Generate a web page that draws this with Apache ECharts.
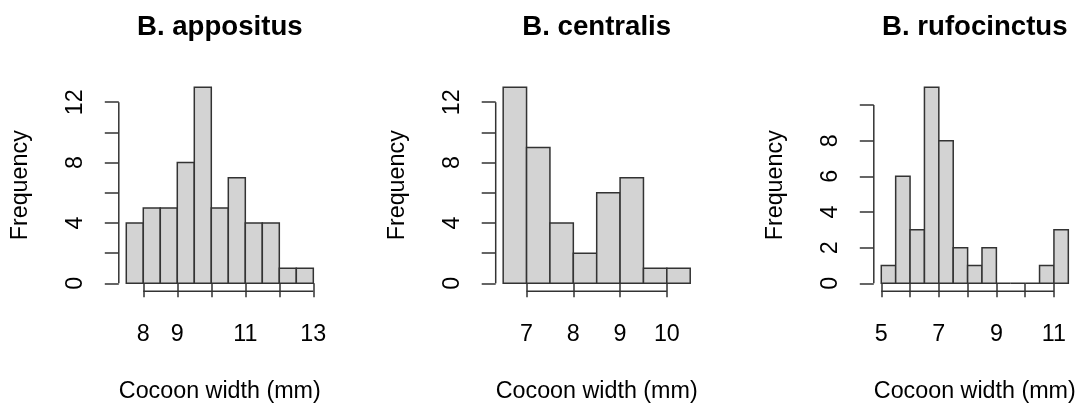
<!DOCTYPE html>
<html>
<head>
<meta charset="utf-8">
<script src="https://cdn.jsdelivr.net/npm/echarts@6/dist/echarts.min.js"></script>
<style>
  html, body { margin: 0; padding: 0; background: #fff; }
  #chart { width: 1082px; height: 409px; }
</style>
</head>
<body>
<div id="chart"></div>
<script>
// Species shown, one histogram each
const species = ['B. appositus', 'B. centralis', 'B. rufocinctus'];

// Bin edges (mm) and counts per bin
const breaksAppositus = [7.5, 8, 8.5, 9, 9.5, 10, 10.5, 11, 11.5, 12, 12.5, 13];
const countsAppositus = [4, 5, 5, 8, 13, 5, 7, 4, 4, 1, 1];

const breaksCentralis = [6.5, 7, 7.5, 8, 8.5, 9, 9.5, 10, 10.5];
const countsCentralis = [13, 9, 4, 2, 6, 7, 1, 1];

const breaksRufocinctus = [5, 5.5, 6, 6.5, 7, 7.5, 8, 8.5, 9, 9.5, 10, 10.5, 11, 11.5];
const countsRufocinctus = [1, 6, 3, 11, 8, 2, 1, 2, 0, 0, 0, 1, 3];

// Tick positions and the labelled subset on each axis
const xTicksAppositus = [8, 9, 10, 11, 12, 13];
const xLabelsAppositus = [8, 9, 11, 13];
const xTicksCentralis = [7, 8, 9, 10];
const xLabelsCentralis = [7, 8, 9, 10];
const xTicksRufocinctus = [5, 6, 7, 8, 9, 10, 11];
const xLabelsRufocinctus = [5, 7, 9, 11];

const yTicksAppositus = [0, 2, 4, 6, 8, 10, 12];
const yLabelsAppositus = [0, 4, 8, 12];
const yTicksCentralis = [0, 2, 4, 6, 8, 10, 12];
const yLabelsCentralis = [0, 4, 8, 12];
const yTicksRufocinctus = [0, 2, 4, 6, 8, 10];
const yLabelsRufocinctus = [0, 2, 4, 6, 8];

const xTitle = 'Cocoon width (mm)';
const yTitle = 'Frequency';

const panels = [
  { breaks: breaksAppositus, counts: countsAppositus, xt: xTicksAppositus, xl: xLabelsAppositus, yt: yTicksAppositus, yl: yLabelsAppositus },
  { breaks: breaksCentralis, counts: countsCentralis, xt: xTicksCentralis, xl: xLabelsCentralis, yt: yTicksCentralis, yl: yLabelsCentralis },
  { breaks: breaksRufocinctus, counts: countsRufocinctus, xt: xTicksRufocinctus, xl: xLabelsRufocinctus, yt: yTicksRufocinctus, yl: yLabelsRufocinctus }
];

// Layout of the three plot regions
const plotLefts = [118.8, 495.7, 873.8];
const plotWidth = 202;
const plotTop = 79.3;
const plotHeight = 211.9;

const FONT = '"Liberation Sans", Arial, Helvetica, sans-serif';
const INK = '#333';
const LW = 1.5;
const BAR_FILL = '#d3d3d3';
const LABEL_SIZE = 23.3;

const grids = [], xAxes = [], yAxes = [], series = [], titles = [];

panels.forEach((p, i) => {
  const lo = p.breaks[0], hi = p.breaks[p.breaks.length - 1];
  const pad = 0.04 * (hi - lo);
  const xMin = lo - pad, xMax = hi + pad;
  const yTop = Math.max(...p.counts);
  const yMin = -0.04 * yTop, yMax = yTop * 1.04;

  grids.push({
    left: plotLefts[i], top: plotTop, width: plotWidth, height: plotHeight,
    containLabel: false, outerBoundsMode: 'none'
  });

  titles.push({
    text: species[i],
    left: plotLefts[i] + plotWidth / 2,
    top: 13,
    padding: 0,
    textAlign: 'center',
    textStyle: { fontFamily: FONT, fontSize: 27.6, fontWeight: 'bold', color: '#000' }
  });

  xAxes.push({
    type: 'value', gridIndex: i, min: xMin, max: xMax,
    name: xTitle, nameLocation: 'middle', nameGap: 89,
    nameTextStyle: { fontFamily: FONT, fontSize: LABEL_SIZE, color: '#000' },
    axisLine: { show: false },
    splitLine: { show: false },
    axisTick: { show: true, length: 14, customValues: p.xt, lineStyle: { color: INK, width: LW } },
    axisLabel: { customValues: p.xl, margin: 31.5, fontFamily: FONT, fontSize: LABEL_SIZE, color: '#000', hideOverlap: false }
  });

  yAxes.push({
    type: 'value', gridIndex: i, min: yMin, max: yMax,
    name: yTitle, nameLocation: 'middle', nameGap: 87,
    nameTextStyle: { fontFamily: FONT, fontSize: LABEL_SIZE, color: '#000' },
    axisLine: { show: false },
    splitLine: { show: false },
    axisTick: { show: true, length: 14, customValues: p.yt, lineStyle: { color: INK, width: LW } },
    axisLabel: { customValues: p.yl, rotate: 90, margin: 32, fontFamily: FONT, fontSize: LABEL_SIZE, color: '#000', hideOverlap: false }
  });

  // Histogram bars: one rectangle per bin, [left edge, right edge, count]
  const bins = p.counts.map((c, k) => [p.breaks[k], p.breaks[k + 1], c]);
  series.push({
    type: 'custom', xAxisIndex: i, yAxisIndex: i, silent: true, clip: false,
    encode: { x: [0, 1], y: 2 },
    data: bins,
    renderItem: (params, api) => {
      const a = api.coord([api.value(0), 0]);
      const b = api.coord([api.value(1), api.value(2)]);
      return {
        type: 'polygon',
        shape: { points: [[a[0], a[1]], [b[0], a[1]], [b[0], b[1]], [a[0], b[1]]] },
        style: { fill: BAR_FILL, stroke: INK, lineWidth: LW }
      };
    }
  });

  // Axis lines spanning only the first to the last tick, on the plot edges
  series.push({
    type: 'custom', xAxisIndex: i, yAxisIndex: i, silent: true, clip: false,
    encode: { x: [0, 1], y: [2, 3] },
    data: [[p.xt[0], p.xt[p.xt.length - 1], p.yt[0], p.yt[p.yt.length - 1]]],
    renderItem: (params, api) => {
      const a = api.coord([api.value(0), yMin]);
      const b = api.coord([api.value(1), yMin]);
      const c = api.coord([xMin, api.value(2)]);
      const d = api.coord([xMin, api.value(3)]);
      return {
        type: 'group',
        children: [
          { type: 'line', shape: { x1: a[0], y1: a[1], x2: b[0], y2: b[1] }, style: { stroke: INK, lineWidth: LW } },
          { type: 'line', shape: { x1: c[0], y1: c[1], x2: d[0], y2: d[1] }, style: { stroke: INK, lineWidth: LW } }
        ]
      };
    }
  });
});

const chart = echarts.init(document.getElementById('chart'), null, { renderer: 'canvas' });
chart.setOption({
  backgroundColor: '#ffffff',
  animation: false,
  title: titles,
  grid: grids,
  xAxis: xAxes,
  yAxis: yAxes,
  series: series
});
</script>
</body>
</html>
